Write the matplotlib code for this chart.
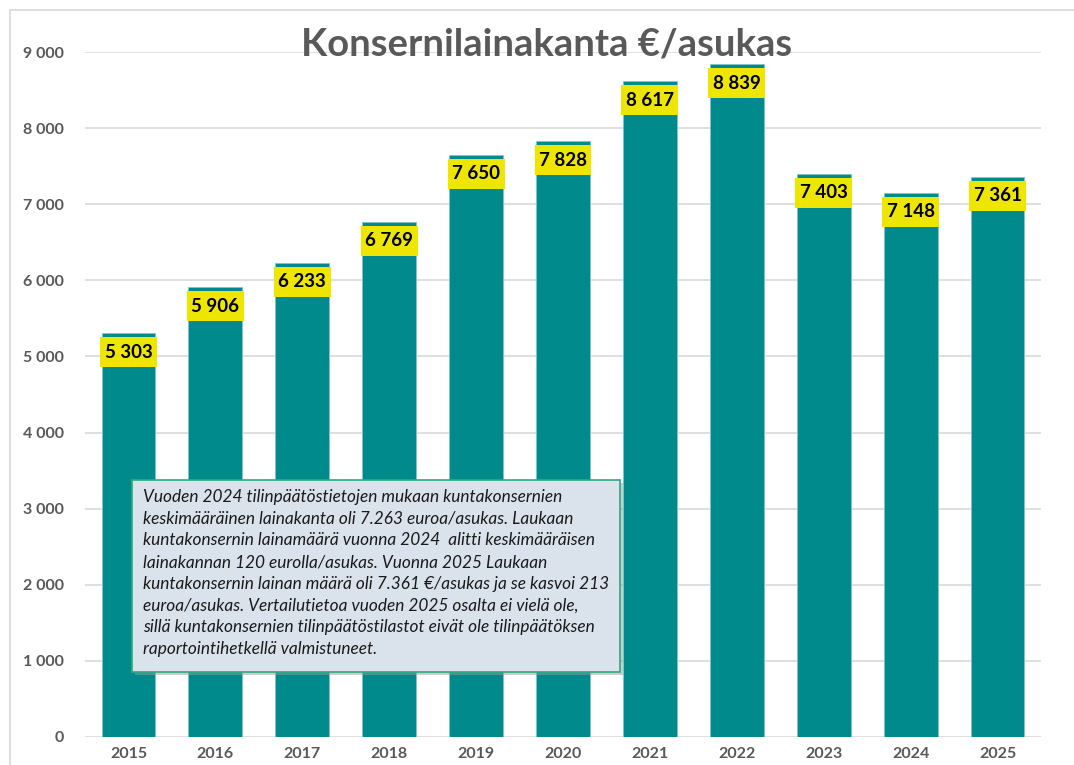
import matplotlib
matplotlib.use("Agg")
import matplotlib.pyplot as plt
from matplotlib.patches import Rectangle

years = ["2015", "2016", "2017", "2018", "2019", "2020", "2021", "2022", "2023", "2024", "2025"]
values = [5303, 5906, 6233, 6769, 7650, 7828, 8617, 8839, 7403, 7148, 7361]
yticks = [0, 1000, 2000, 3000, 4000, 5000, 6000, 7000, 8000, 9000]
title = "Konsernilainakanta €/asukas"
note = ("Vuoden 2024 tilinpäätöstietojen mukaan kuntakonsernien\n"
        "keskimääräinen lainakanta oli 7.263 euroa/asukas. Laukaan\n"
        "kuntakonsernin lainamäärä vuonna 2024  alitti keskimääräisen\n"
        "lainakannan 120 eurolla/asukas. Vuonna 2025 Laukaan\n"
        "kuntakonsernin lainan määrä oli 7.361 €/asukas ja se kasvoi 213\n"
        "euroa/asukas. Vertailutietoa vuoden 2025 osalta ei vielä ole,\n"
        "sillä kuntakonsernien tilinpäätöstilastot eivät ole tilinpäätöksen\n"
        "raportointihetkellä valmistuneet.")

plt.rcParams['font.family'] = ['Lato', 'DejaVu Sans']

W, H = 1074, 765
fig = plt.figure(figsize=(W / 100, H / 100), dpi=100)
fig.patch.set_facecolor("white")

# outer chart frame
fig.patches.append(Rectangle((10 / W, -0.05), 1.1, 1 - 10 / H + 0.05, transform=fig.transFigure,
                             fill=False, edgecolor="#D9D9D9", linewidth=1.2))

ax_h_px = 737 - 52
ax = fig.add_axes([85 / W, 1 - 737 / H, (1041 - 85) / W, ax_h_px / H])
x = list(range(len(years)))
ax.bar(x, values, width=0.62, color="#008A8C", edgecolor="#7FC6C8", linewidth=0.6, zorder=2)
ax.set_xlim(-0.5, len(years) - 0.5)
ax.set_ylim(0, 9000)
ax.set_yticks(yticks)
ax.set_yticklabels([f"{v:,}".replace(",", " ") for v in yticks])
ax.set_xticks(x)
ax.set_xticklabels(years)
for lab in ax.get_yticklabels() + ax.get_xticklabels():
    lab.set_fontweight("bold")
    lab.set_color("#595959")
    lab.set_fontsize(11.5)
ax.tick_params(axis="both", length=0)
ax.tick_params(axis="y", pad=15)
ax.tick_params(axis="x", pad=7)
ax.grid(axis="y", color="#D9D9D9", linewidth=1.2, zorder=0)
ax.set_axisbelow(True)
for s in ax.spines.values():
    s.set_visible(False)

# yellow label boxes just under each bar top
px = 9000 / ax_h_px  # data units per pixel
gap, box_h = 4 * px, 30 * px
ax.bar(x, [box_h] * len(x), bottom=[v - gap - box_h for v in values], width=0.655,
       color="#EEE600", zorder=3)
for xi, v in zip(x, values):
    ax.text(xi, v - gap - box_h / 2, f"{v:,}".replace(",", " "), ha="center", va="center",
            fontsize=13.5, fontweight="bold", color="black", zorder=4)

fig.text(547 / W, 1 - 45 / H, title, ha="center", va="center", fontsize=27.5,
         fontweight="bold", color="#595959")

# note box with slight shadow
bx0, bx1, by0, by1 = 132, 620, 480, 672
fig.patches.append(Rectangle(((bx0 + 3) / W, 1 - (by1 + 3) / H), (bx1 - bx0) / W, (by1 - by0) / H,
                             transform=fig.transFigure, facecolor="#9a9a9a", edgecolor="none",
                             alpha=0.5, zorder=5))
fig.patches.append(Rectangle((bx0 / W, 1 - by1 / H), (bx1 - bx0) / W, (by1 - by0) / H,
                             transform=fig.transFigure, facecolor="#DAE3EB", edgecolor="#2DAA7E",
                             linewidth=1.2, zorder=6))
fig.text(143 / W, 1 - 489 / H, note, ha="left", va="top", fontsize=12.4, style="italic",
         color="#1A1A1A", linespacing=1.44, zorder=7)

fig.savefig("out.png", dpi=100)
